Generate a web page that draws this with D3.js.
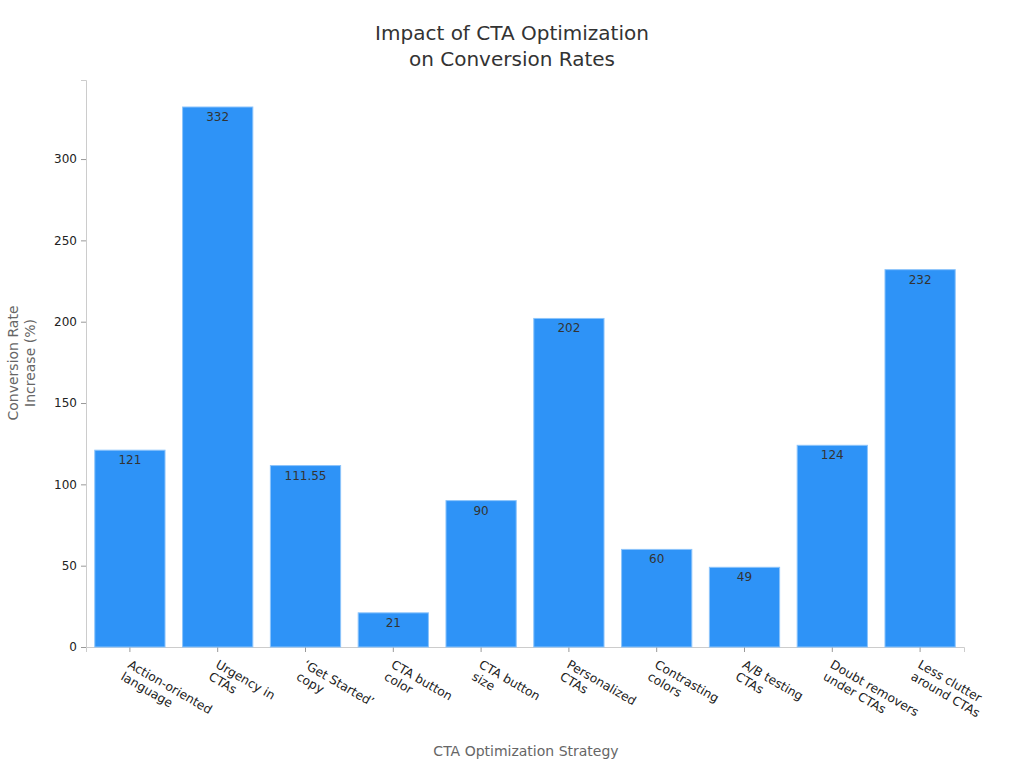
<!DOCTYPE html>
<head>
<meta charset="utf-8">
<script src="https://d3js.org/d3.v7.min.js"></script>
<style>
  body { margin: 0; background: #fff; }
  text { font-family: "DejaVu Sans", sans-serif; }
</style>
</head>
<body>
<div id="chart"></div>
<script>

// chart data
var strategies = [
    ["Action-oriented", "language"],
    ["Urgency in", "CTAs"],
    ["‘Get Started’", "copy"],
    ["CTA button", "color"],
    ["CTA button", "size"],
    ["Personalized", "CTAs"],
    ["Contrasting", "colors"],
    ["A/B testing", "CTAs"],
    ["Doubt removers", "under CTAs"],
    ["Less clutter", "around CTAs"]
];
var increases = [121, 332, 111.55, 21, 90, 202, 60, 49, 124, 232];
var yTicks = [0, 50, 100, 150, 200, 250, 300];

var width = 1024,
    height = 768;
var margin = {left: 86, right: 60, top: 80, bottom: 121};

var svg = d3.select("#chart")
    .append("svg")
    .attr("width", width)
    .attr("height", height);

// scales
var x = d3.scaleBand()
    .domain(d3.range(strategies.length))
    .range([margin.left, width - margin.right])
    .paddingInner(0.2)
    .paddingOuter(0.1);

var y = d3.scaleLinear()
    .domain([0, d3.max(increases) * 1.05])
    .range([height - margin.bottom, margin.top]);

// title
svg.append("text")
    .attr("x", 512)
    .attr("text-anchor", "middle")
    .attr("font-size", 20)
    .attr("fill", "#333")
    .selectAll("tspan")
    .data(["Impact of CTA Optimization", "on Conversion Rates"])
    .enter().append("tspan")
    .attr("x", 512)
    .attr("y", function(d, i) { return 40 + i * 26; })
    .text(function(d) { return d; });

// y axis
var yAxis = svg.append("g")
    .attr("transform", "translate(" + margin.left + ",0)")
    .call(d3.axisLeft(y).tickValues(yTicks).tickSize(5).tickPadding(4));
yAxis.select(".domain").attr("stroke", "#ccc");
yAxis.selectAll(".tick line").attr("stroke", "#999");
yAxis.selectAll(".tick text")
    .attr("font-family", "DejaVu Sans, sans-serif")
    .attr("font-size", 12)
    .attr("fill", "#222");

// x axis
var xAxis = svg.append("g")
    .attr("transform", "translate(0," + (height - margin.bottom) + ")")
    .call(d3.axisBottom(x).tickSize(5).tickFormat(""));
xAxis.select(".domain").attr("stroke", "#ccc");
xAxis.selectAll(".tick line").attr("stroke", "#999");

// rotated two-line tick labels
var labels = svg.append("g").selectAll("text")
    .data(strategies)
    .enter().append("text")
    .attr("transform", function(d, i) {
        return "translate(" + (x(i) + x.bandwidth() / 2 - 3) + "," + (height - margin.bottom + 20) + ") rotate(30)";
    })
    .attr("font-size", 12.3)
    .attr("fill", "#222");

labels.selectAll("tspan")
    .data(function(d) { return d; })
    .enter().append("tspan")
    .attr("x", 0)
    .attr("dy", function(d, i) { return i === 0 ? 0 : 14; })
    .text(function(d) { return d; });

// bars
svg.append("g").selectAll("rect")
    .data(increases)
    .enter().append("rect")
    .attr("x", function(d, i) { return x(i); })
    .attr("y", function(d) { return y(d); })
    .attr("width", x.bandwidth())
    .attr("height", function(d) { return y(0) - y(d); })
    .attr("fill", "#2e93f7")
    .attr("stroke", "#8cc4fb")
    .attr("stroke-width", 1);

// value labels
svg.append("g").selectAll("text")
    .data(increases)
    .enter().append("text")
    .attr("x", function(d, i) { return x(i) + x.bandwidth() / 2; })
    .attr("y", function(d) { return y(d) + 14; })
    .attr("text-anchor", "middle")
    .attr("font-size", 12)
    .attr("fill", "#333")
    .text(function(d) { return d; });

// axis titles
svg.append("text")
    .attr("x", 526)
    .attr("y", 756)
    .attr("text-anchor", "middle")
    .attr("font-size", 14)
    .attr("fill", "#666")
    .text("CTA Optimization Strategy");

svg.append("text")
    .attr("transform", "translate(18,363) rotate(-90)")
    .attr("text-anchor", "middle")
    .attr("font-size", 14)
    .attr("fill", "#666")
    .selectAll("tspan")
    .data(["Conversion Rate", "Increase (%)"])
    .enter().append("tspan")
    .attr("x", 0)
    .attr("dy", function(d, i) { return i === 0 ? 0 : 17; })
    .text(function(d) { return d; });

</script>
</body>
